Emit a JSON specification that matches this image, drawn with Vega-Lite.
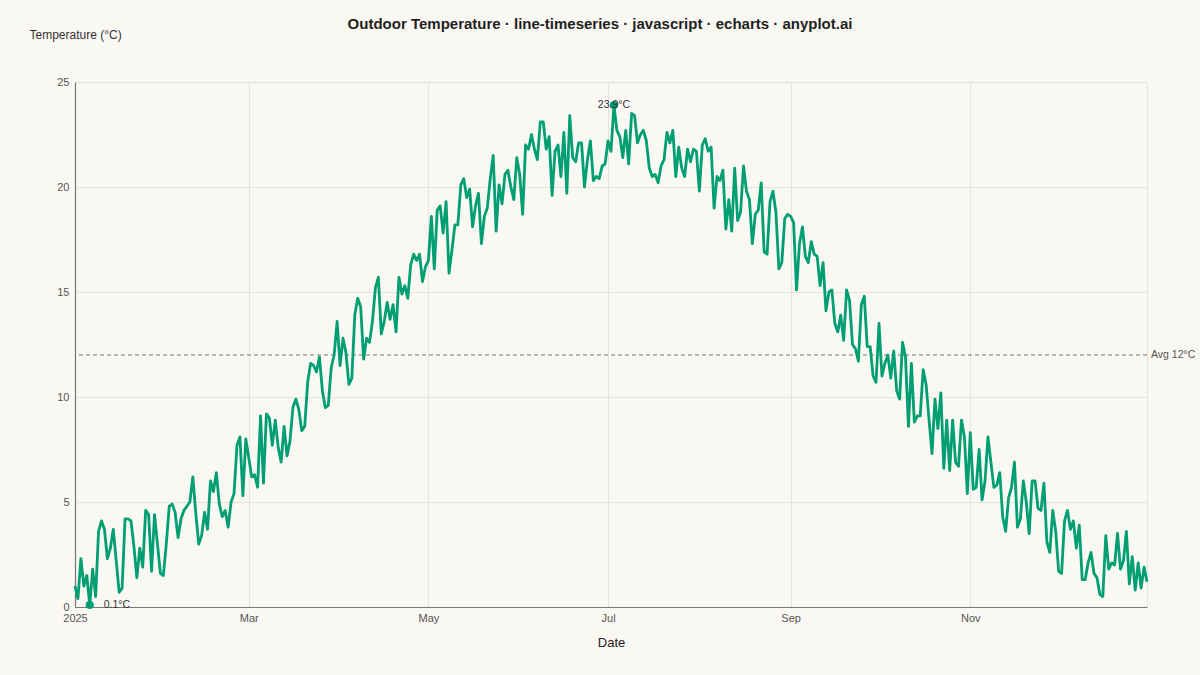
{
  "$schema": "https://vega.github.io/schema/vega-lite/v6.json",
  "width": 1072,
  "height": 525,
  "autosize": {"type": "none"},
  "padding": {"left": 75, "top": 82, "right": 53, "bottom": 68},
  "background": "#FAF8F2",
  "title": {
    "text": "Outdoor Temperature · line-timeseries · javascript · echarts · anyplot.ai",
    "fontSize": 15,
    "fontWeight": "bold",
    "color": "#1F1F1F",
    "anchor": "middle",
    "frame": "group",
    "dx": -11,
    "offset": -4
  },
  "datasets": {
    "daily": [
      {"date": "2025-01-01", "temp": 1.0}, {"date": "2025-01-02", "temp": 0.4}, {"date": "2025-01-03", "temp": 2.3}, {"date": "2025-01-04", "temp": 1.0},
      {"date": "2025-01-05", "temp": 1.5}, {"date": "2025-01-06", "temp": 0.1}, {"date": "2025-01-07", "temp": 1.8}, {"date": "2025-01-08", "temp": 0.5},
      {"date": "2025-01-09", "temp": 3.6}, {"date": "2025-01-10", "temp": 4.1}, {"date": "2025-01-11", "temp": 3.7}, {"date": "2025-01-12", "temp": 2.3},
      {"date": "2025-01-13", "temp": 2.8}, {"date": "2025-01-14", "temp": 3.7}, {"date": "2025-01-15", "temp": 2.2}, {"date": "2025-01-16", "temp": 0.7},
      {"date": "2025-01-17", "temp": 0.9}, {"date": "2025-01-18", "temp": 4.2}, {"date": "2025-01-19", "temp": 4.2}, {"date": "2025-01-20", "temp": 4.1},
      {"date": "2025-01-21", "temp": 2.9}, {"date": "2025-01-22", "temp": 1.4}, {"date": "2025-01-23", "temp": 2.8}, {"date": "2025-01-24", "temp": 1.9},
      {"date": "2025-01-25", "temp": 4.6}, {"date": "2025-01-26", "temp": 4.4}, {"date": "2025-01-27", "temp": 1.7}, {"date": "2025-01-28", "temp": 4.4},
      {"date": "2025-01-29", "temp": 3.0}, {"date": "2025-01-30", "temp": 1.6}, {"date": "2025-01-31", "temp": 1.5},
      {"date": "2025-02-01", "temp": 3.0}, {"date": "2025-02-02", "temp": 4.8}, {"date": "2025-02-03", "temp": 4.9}, {"date": "2025-02-04", "temp": 4.5},
      {"date": "2025-02-05", "temp": 3.3}, {"date": "2025-02-06", "temp": 4.2}, {"date": "2025-02-07", "temp": 4.6}, {"date": "2025-02-08", "temp": 4.8},
      {"date": "2025-02-09", "temp": 5.0}, {"date": "2025-02-10", "temp": 6.2}, {"date": "2025-02-11", "temp": 4.5}, {"date": "2025-02-12", "temp": 3.0},
      {"date": "2025-02-13", "temp": 3.4}, {"date": "2025-02-14", "temp": 4.5}, {"date": "2025-02-15", "temp": 3.7}, {"date": "2025-02-16", "temp": 6.0},
      {"date": "2025-02-17", "temp": 5.5}, {"date": "2025-02-18", "temp": 6.4}, {"date": "2025-02-19", "temp": 4.9}, {"date": "2025-02-20", "temp": 4.3},
      {"date": "2025-02-21", "temp": 4.6}, {"date": "2025-02-22", "temp": 3.8}, {"date": "2025-02-23", "temp": 5.0}, {"date": "2025-02-24", "temp": 5.4},
      {"date": "2025-02-25", "temp": 7.7}, {"date": "2025-02-26", "temp": 8.1}, {"date": "2025-02-27", "temp": 5.3}, {"date": "2025-02-28", "temp": 8.0},
      {"date": "2025-03-01", "temp": 7.1}, {"date": "2025-03-02", "temp": 6.2}, {"date": "2025-03-03", "temp": 6.3}, {"date": "2025-03-04", "temp": 5.7},
      {"date": "2025-03-05", "temp": 9.1}, {"date": "2025-03-06", "temp": 5.9}, {"date": "2025-03-07", "temp": 9.2}, {"date": "2025-03-08", "temp": 9.0},
      {"date": "2025-03-09", "temp": 7.7}, {"date": "2025-03-10", "temp": 8.9}, {"date": "2025-03-11", "temp": 7.6}, {"date": "2025-03-12", "temp": 6.9},
      {"date": "2025-03-13", "temp": 8.6}, {"date": "2025-03-14", "temp": 7.2}, {"date": "2025-03-15", "temp": 7.9}, {"date": "2025-03-16", "temp": 9.5},
      {"date": "2025-03-17", "temp": 9.9}, {"date": "2025-03-18", "temp": 9.4}, {"date": "2025-03-19", "temp": 8.4}, {"date": "2025-03-20", "temp": 8.6},
      {"date": "2025-03-21", "temp": 10.7}, {"date": "2025-03-22", "temp": 11.6}, {"date": "2025-03-23", "temp": 11.5}, {"date": "2025-03-24", "temp": 11.2},
      {"date": "2025-03-25", "temp": 11.9}, {"date": "2025-03-26", "temp": 10.3}, {"date": "2025-03-27", "temp": 9.5}, {"date": "2025-03-28", "temp": 9.6},
      {"date": "2025-03-29", "temp": 11.4}, {"date": "2025-03-30", "temp": 12.0}, {"date": "2025-03-31", "temp": 13.6},
      {"date": "2025-04-01", "temp": 11.5}, {"date": "2025-04-02", "temp": 12.8}, {"date": "2025-04-03", "temp": 12.1}, {"date": "2025-04-04", "temp": 10.6},
      {"date": "2025-04-05", "temp": 10.9}, {"date": "2025-04-06", "temp": 13.9}, {"date": "2025-04-07", "temp": 14.7}, {"date": "2025-04-08", "temp": 14.3},
      {"date": "2025-04-09", "temp": 11.8}, {"date": "2025-04-10", "temp": 12.8}, {"date": "2025-04-11", "temp": 12.6}, {"date": "2025-04-12", "temp": 13.6},
      {"date": "2025-04-13", "temp": 15.2}, {"date": "2025-04-14", "temp": 15.7}, {"date": "2025-04-15", "temp": 13.0}, {"date": "2025-04-16", "temp": 13.6},
      {"date": "2025-04-17", "temp": 14.5}, {"date": "2025-04-18", "temp": 13.7}, {"date": "2025-04-19", "temp": 14.4}, {"date": "2025-04-20", "temp": 13.1},
      {"date": "2025-04-21", "temp": 15.7}, {"date": "2025-04-22", "temp": 14.9}, {"date": "2025-04-23", "temp": 15.3}, {"date": "2025-04-24", "temp": 14.7},
      {"date": "2025-04-25", "temp": 16.3}, {"date": "2025-04-26", "temp": 16.8}, {"date": "2025-04-27", "temp": 16.5}, {"date": "2025-04-28", "temp": 16.8},
      {"date": "2025-04-29", "temp": 15.5}, {"date": "2025-04-30", "temp": 16.2},
      {"date": "2025-05-01", "temp": 16.5}, {"date": "2025-05-02", "temp": 18.6}, {"date": "2025-05-03", "temp": 16.1}, {"date": "2025-05-04", "temp": 18.9},
      {"date": "2025-05-05", "temp": 19.1}, {"date": "2025-05-06", "temp": 17.8}, {"date": "2025-05-07", "temp": 19.3}, {"date": "2025-05-08", "temp": 15.9},
      {"date": "2025-05-09", "temp": 17.0}, {"date": "2025-05-10", "temp": 18.2}, {"date": "2025-05-11", "temp": 18.2}, {"date": "2025-05-12", "temp": 20.1},
      {"date": "2025-05-13", "temp": 20.4}, {"date": "2025-05-14", "temp": 19.5}, {"date": "2025-05-15", "temp": 19.9}, {"date": "2025-05-16", "temp": 18.1},
      {"date": "2025-05-17", "temp": 19.1}, {"date": "2025-05-18", "temp": 19.7}, {"date": "2025-05-19", "temp": 17.3}, {"date": "2025-05-20", "temp": 18.6},
      {"date": "2025-05-21", "temp": 19.0}, {"date": "2025-05-22", "temp": 20.4}, {"date": "2025-05-23", "temp": 21.5}, {"date": "2025-05-24", "temp": 17.9},
      {"date": "2025-05-25", "temp": 20.1}, {"date": "2025-05-26", "temp": 19.2}, {"date": "2025-05-27", "temp": 20.6}, {"date": "2025-05-28", "temp": 20.8},
      {"date": "2025-05-29", "temp": 20.0}, {"date": "2025-05-30", "temp": 19.4}, {"date": "2025-05-31", "temp": 21.4},
      {"date": "2025-06-01", "temp": 20.6}, {"date": "2025-06-02", "temp": 18.7}, {"date": "2025-06-03", "temp": 22.0}, {"date": "2025-06-04", "temp": 21.8},
      {"date": "2025-06-05", "temp": 22.5}, {"date": "2025-06-06", "temp": 21.8}, {"date": "2025-06-07", "temp": 21.3}, {"date": "2025-06-08", "temp": 23.1},
      {"date": "2025-06-09", "temp": 23.1}, {"date": "2025-06-10", "temp": 21.8}, {"date": "2025-06-11", "temp": 22.4}, {"date": "2025-06-12", "temp": 19.6},
      {"date": "2025-06-13", "temp": 21.7}, {"date": "2025-06-14", "temp": 22.0}, {"date": "2025-06-15", "temp": 20.5}, {"date": "2025-06-16", "temp": 22.6},
      {"date": "2025-06-17", "temp": 19.7}, {"date": "2025-06-18", "temp": 23.4}, {"date": "2025-06-19", "temp": 21.4}, {"date": "2025-06-20", "temp": 21.2},
      {"date": "2025-06-21", "temp": 22.1}, {"date": "2025-06-22", "temp": 22.1}, {"date": "2025-06-23", "temp": 20.0}, {"date": "2025-06-24", "temp": 21.3},
      {"date": "2025-06-25", "temp": 22.2}, {"date": "2025-06-26", "temp": 20.3}, {"date": "2025-06-27", "temp": 20.5}, {"date": "2025-06-28", "temp": 20.4},
      {"date": "2025-06-29", "temp": 21.0}, {"date": "2025-06-30", "temp": 21.1},
      {"date": "2025-07-01", "temp": 22.2}, {"date": "2025-07-02", "temp": 21.7}, {"date": "2025-07-03", "temp": 23.9}, {"date": "2025-07-04", "temp": 22.7},
      {"date": "2025-07-05", "temp": 22.4}, {"date": "2025-07-06", "temp": 21.4}, {"date": "2025-07-07", "temp": 22.7}, {"date": "2025-07-08", "temp": 21.1},
      {"date": "2025-07-09", "temp": 23.5}, {"date": "2025-07-10", "temp": 23.4}, {"date": "2025-07-11", "temp": 22.1}, {"date": "2025-07-12", "temp": 22.5},
      {"date": "2025-07-13", "temp": 22.7}, {"date": "2025-07-14", "temp": 22.2}, {"date": "2025-07-15", "temp": 20.9}, {"date": "2025-07-16", "temp": 20.5},
      {"date": "2025-07-17", "temp": 20.6}, {"date": "2025-07-18", "temp": 20.2}, {"date": "2025-07-19", "temp": 21.0}, {"date": "2025-07-20", "temp": 21.3},
      {"date": "2025-07-21", "temp": 22.6}, {"date": "2025-07-22", "temp": 22.1}, {"date": "2025-07-23", "temp": 22.7}, {"date": "2025-07-24", "temp": 20.5},
      {"date": "2025-07-25", "temp": 21.9}, {"date": "2025-07-26", "temp": 20.9}, {"date": "2025-07-27", "temp": 20.5}, {"date": "2025-07-28", "temp": 21.8},
      {"date": "2025-07-29", "temp": 21.2}, {"date": "2025-07-30", "temp": 21.8}, {"date": "2025-07-31", "temp": 21.7},
      {"date": "2025-08-01", "temp": 19.8}, {"date": "2025-08-02", "temp": 22.0}, {"date": "2025-08-03", "temp": 22.3}, {"date": "2025-08-04", "temp": 21.7},
      {"date": "2025-08-05", "temp": 21.9}, {"date": "2025-08-06", "temp": 19.0}, {"date": "2025-08-07", "temp": 20.5}, {"date": "2025-08-08", "temp": 20.3},
      {"date": "2025-08-09", "temp": 20.8}, {"date": "2025-08-10", "temp": 18.0}, {"date": "2025-08-11", "temp": 19.4}, {"date": "2025-08-12", "temp": 17.9},
      {"date": "2025-08-13", "temp": 20.9}, {"date": "2025-08-14", "temp": 18.4}, {"date": "2025-08-15", "temp": 18.8}, {"date": "2025-08-16", "temp": 21.0},
      {"date": "2025-08-17", "temp": 19.8}, {"date": "2025-08-18", "temp": 19.4}, {"date": "2025-08-19", "temp": 17.3}, {"date": "2025-08-20", "temp": 18.7},
      {"date": "2025-08-21", "temp": 18.9}, {"date": "2025-08-22", "temp": 20.2}, {"date": "2025-08-23", "temp": 16.9}, {"date": "2025-08-24", "temp": 16.8},
      {"date": "2025-08-25", "temp": 19.3}, {"date": "2025-08-26", "temp": 19.8}, {"date": "2025-08-27", "temp": 18.8}, {"date": "2025-08-28", "temp": 16.1},
      {"date": "2025-08-29", "temp": 16.4}, {"date": "2025-08-30", "temp": 18.5}, {"date": "2025-08-31", "temp": 18.7},
      {"date": "2025-09-01", "temp": 18.6}, {"date": "2025-09-02", "temp": 18.3}, {"date": "2025-09-03", "temp": 15.1}, {"date": "2025-09-04", "temp": 17.3},
      {"date": "2025-09-05", "temp": 18.1}, {"date": "2025-09-06", "temp": 16.7}, {"date": "2025-09-07", "temp": 16.4}, {"date": "2025-09-08", "temp": 17.4},
      {"date": "2025-09-09", "temp": 16.8}, {"date": "2025-09-10", "temp": 16.7}, {"date": "2025-09-11", "temp": 15.3}, {"date": "2025-09-12", "temp": 16.4},
      {"date": "2025-09-13", "temp": 14.1}, {"date": "2025-09-14", "temp": 15.0}, {"date": "2025-09-15", "temp": 15.1}, {"date": "2025-09-16", "temp": 13.5},
      {"date": "2025-09-17", "temp": 13.1}, {"date": "2025-09-18", "temp": 13.9}, {"date": "2025-09-19", "temp": 12.7}, {"date": "2025-09-20", "temp": 15.1},
      {"date": "2025-09-21", "temp": 14.6}, {"date": "2025-09-22", "temp": 12.5}, {"date": "2025-09-23", "temp": 12.3}, {"date": "2025-09-24", "temp": 11.7},
      {"date": "2025-09-25", "temp": 14.4}, {"date": "2025-09-26", "temp": 14.8}, {"date": "2025-09-27", "temp": 12.4}, {"date": "2025-09-28", "temp": 12.4},
      {"date": "2025-09-29", "temp": 11.0}, {"date": "2025-09-30", "temp": 10.7},
      {"date": "2025-10-01", "temp": 13.5}, {"date": "2025-10-02", "temp": 11.0}, {"date": "2025-10-03", "temp": 11.6}, {"date": "2025-10-04", "temp": 12.0},
      {"date": "2025-10-05", "temp": 10.9}, {"date": "2025-10-06", "temp": 12.2}, {"date": "2025-10-07", "temp": 10.3}, {"date": "2025-10-08", "temp": 9.9},
      {"date": "2025-10-09", "temp": 12.6}, {"date": "2025-10-10", "temp": 11.9}, {"date": "2025-10-11", "temp": 8.6}, {"date": "2025-10-12", "temp": 11.6},
      {"date": "2025-10-13", "temp": 8.8}, {"date": "2025-10-14", "temp": 9.1}, {"date": "2025-10-15", "temp": 9.1}, {"date": "2025-10-16", "temp": 11.3},
      {"date": "2025-10-17", "temp": 10.6}, {"date": "2025-10-18", "temp": 8.9}, {"date": "2025-10-19", "temp": 7.3}, {"date": "2025-10-20", "temp": 9.9},
      {"date": "2025-10-21", "temp": 8.5}, {"date": "2025-10-22", "temp": 10.2}, {"date": "2025-10-23", "temp": 6.6}, {"date": "2025-10-24", "temp": 8.9},
      {"date": "2025-10-25", "temp": 6.5}, {"date": "2025-10-26", "temp": 8.9}, {"date": "2025-10-27", "temp": 6.9}, {"date": "2025-10-28", "temp": 6.7},
      {"date": "2025-10-29", "temp": 8.9}, {"date": "2025-10-30", "temp": 8.1}, {"date": "2025-10-31", "temp": 5.4},
      {"date": "2025-11-01", "temp": 8.3}, {"date": "2025-11-02", "temp": 5.6}, {"date": "2025-11-03", "temp": 5.7}, {"date": "2025-11-04", "temp": 7.5},
      {"date": "2025-11-05", "temp": 5.1}, {"date": "2025-11-06", "temp": 6.0}, {"date": "2025-11-07", "temp": 8.1}, {"date": "2025-11-08", "temp": 6.9},
      {"date": "2025-11-09", "temp": 5.7}, {"date": "2025-11-10", "temp": 5.8}, {"date": "2025-11-11", "temp": 6.4}, {"date": "2025-11-12", "temp": 4.3},
      {"date": "2025-11-13", "temp": 3.6}, {"date": "2025-11-14", "temp": 5.2}, {"date": "2025-11-15", "temp": 5.7}, {"date": "2025-11-16", "temp": 6.9},
      {"date": "2025-11-17", "temp": 3.8}, {"date": "2025-11-18", "temp": 4.2}, {"date": "2025-11-19", "temp": 6.0}, {"date": "2025-11-20", "temp": 5.0},
      {"date": "2025-11-21", "temp": 3.5}, {"date": "2025-11-22", "temp": 6.0}, {"date": "2025-11-23", "temp": 6.0}, {"date": "2025-11-24", "temp": 4.7},
      {"date": "2025-11-25", "temp": 4.6}, {"date": "2025-11-26", "temp": 5.9}, {"date": "2025-11-27", "temp": 3.1}, {"date": "2025-11-28", "temp": 2.6},
      {"date": "2025-11-29", "temp": 4.6}, {"date": "2025-11-30", "temp": 3.6},
      {"date": "2025-12-01", "temp": 1.7}, {"date": "2025-12-02", "temp": 1.6}, {"date": "2025-12-03", "temp": 4.1}, {"date": "2025-12-04", "temp": 4.6},
      {"date": "2025-12-05", "temp": 3.7}, {"date": "2025-12-06", "temp": 4.1}, {"date": "2025-12-07", "temp": 2.8}, {"date": "2025-12-08", "temp": 3.9},
      {"date": "2025-12-09", "temp": 1.3}, {"date": "2025-12-10", "temp": 1.3}, {"date": "2025-12-11", "temp": 2.1}, {"date": "2025-12-12", "temp": 2.6},
      {"date": "2025-12-13", "temp": 1.6}, {"date": "2025-12-14", "temp": 1.4}, {"date": "2025-12-15", "temp": 0.6}, {"date": "2025-12-16", "temp": 0.5},
      {"date": "2025-12-17", "temp": 3.4}, {"date": "2025-12-18", "temp": 1.8}, {"date": "2025-12-19", "temp": 2.1}, {"date": "2025-12-20", "temp": 2.0},
      {"date": "2025-12-21", "temp": 3.5}, {"date": "2025-12-22", "temp": 1.8}, {"date": "2025-12-23", "temp": 2.2}, {"date": "2025-12-24", "temp": 3.6},
      {"date": "2025-12-25", "temp": 1.1}, {"date": "2025-12-26", "temp": 2.4}, {"date": "2025-12-27", "temp": 0.8}, {"date": "2025-12-28", "temp": 2.1},
      {"date": "2025-12-29", "temp": 0.9}, {"date": "2025-12-30", "temp": 1.9}, {"date": "2025-12-31", "temp": 1.2}
    ],
    "average": [
      {"date": "2025-12-31", "avg": 12, "label": "Avg 12°C"}
    ]
  },
  "layer": [
    {
      "data": {"name": "average"},
      "mark": {"type": "rule", "color": "#777777", "strokeWidth": 1, "strokeDash": [4, 3]},
      "encoding": {
        "y": {"field": "avg", "type": "quantitative"}
      }
    },
    {
      "data": {"name": "daily"},
      "mark": {"type": "line", "color": "#009E73", "strokeWidth": 2.8, "strokeJoin": "round"},
      "encoding": {
        "x": {
          "field": "date",
          "type": "temporal",
          "scale": {"type": "utc", "domain": ["2025-01-01", "2025-12-31"]},
          "axis": {
            "title": "Date",
            "titleFontSize": 13,
            "titleFontWeight": "normal",
            "titleColor": "#222222",
            "titlePadding": 13,
            "tickCount": {"interval": "month", "step": 2},
            "labelExpr": "utcmonth(datum.value) == 0 ? utcFormat(datum.value, '%Y') : utcFormat(datum.value, '%b')",
            "labelPadding": 5,
            "labelFlush": false
          }
        },
        "y": {
          "field": "temp",
          "type": "quantitative",
          "scale": {"domain": [0, 25], "nice": false},
          "axis": {
            "title": "Temperature (°C)",
            "titleAngle": 0,
            "titleAlign": "left",
            "titleBaseline": "middle",
            "titleX": -46,
            "titleY": -48,
            "titleFontSize": 12,
            "titleFontWeight": "normal",
            "titleColor": "#333333",
            "values": [0, 5, 10, 15, 20, 25],
            "labelPadding": 6
          }
        }
      }
    },
    {
      "data": {"name": "average"},
      "mark": {"type": "text", "align": "left", "baseline": "middle", "dx": 4, "fontSize": 10.5, "color": "#555555"},
      "encoding": {
        "x": {"field": "date", "type": "temporal"},
        "y": {"field": "avg", "type": "quantitative"},
        "text": {"field": "label"}
      }
    },
    {
      "data": {"name": "daily"},
      "transform": [
        {"joinaggregate": [{"op": "min", "field": "temp", "as": "tmin"}, {"op": "max", "field": "temp", "as": "tmax"}]},
        {"filter": "datum.temp == datum.tmin || datum.temp == datum.tmax"}
      ],
      "mark": {"type": "point", "filled": true, "opacity": 1, "size": 70, "color": "#009E73"},
      "encoding": {
        "x": {"field": "date", "type": "temporal"},
        "y": {"field": "temp", "type": "quantitative"}
      }
    },
    {
      "data": {"name": "daily"},
      "transform": [
        {"joinaggregate": [{"op": "min", "field": "temp", "as": "tmin"}]},
        {"filter": "datum.temp == datum.tmin"},
        {"calculate": "format(datum.temp, '.1f') + '°C'", "as": "label"}
      ],
      "mark": {"type": "text", "align": "left", "baseline": "middle", "dx": 14, "fontSize": 10.5, "color": "#333333"},
      "encoding": {
        "x": {"field": "date", "type": "temporal"},
        "y": {"field": "temp", "type": "quantitative"},
        "text": {"field": "label"}
      }
    },
    {
      "data": {"name": "daily"},
      "transform": [
        {"joinaggregate": [{"op": "max", "field": "temp", "as": "tmax"}]},
        {"filter": "datum.temp == datum.tmax"},
        {"calculate": "format(datum.temp, '.1f') + '°C'", "as": "label"}
      ],
      "mark": {"type": "text", "align": "center", "baseline": "middle", "fontSize": 10.5, "color": "#333333"},
      "encoding": {
        "x": {"field": "date", "type": "temporal"},
        "y": {"field": "temp", "type": "quantitative"},
        "text": {"field": "label"}
      }
    }
  ],
  "config": {
    "font": "Liberation Sans",
    "view": {"stroke": "#E6E3DC"},
    "axis": {
      "gridColor": "#E6E3DC",
      "gridWidth": 1,
      "domainColor": "#777777",
      "domainWidth": 1.2,
      "ticks": false,
      "labelColor": "#555555",
      "labelFontSize": 11
    }
  }
}
